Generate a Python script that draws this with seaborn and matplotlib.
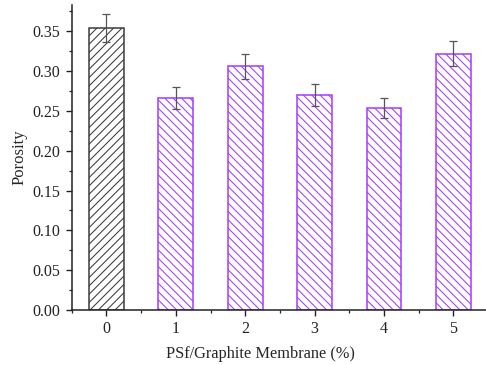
import matplotlib
matplotlib.use("Agg")
import matplotlib.pyplot as plt
import seaborn as sns
import pandas as pd
from matplotlib.ticker import MultipleLocator

# Porosity of PSf/graphite membranes by graphite loading
loading = ["0", "1", "2", "3", "4", "5"]
porosity = [0.354, 0.266, 0.306, 0.270, 0.254, 0.322]
porosity_err = [0.018, 0.0135, 0.0155, 0.0135, 0.0128, 0.016]

df = pd.DataFrame({"loading": loading, "porosity": porosity})

sns.set_style("ticks")
plt.rcParams["font.family"] = ["Liberation Serif", "DejaVu Serif"]
plt.rcParams["hatch.linewidth"] = 0.75

fig = plt.figure(figsize=(4.86, 3.65), dpi=100)
ax = fig.add_axes([0.1475, 0.1507, 0.857, 0.8356])

sns.barplot(data=df, x="loading", y="porosity", order=loading,
            width=0.5, color="white", errorbar=None, ax=ax)

purple = "#a23cff"
for i, bar in enumerate(ax.patches):
    bar.set_facecolor("white")
    if i == 0:
        bar.set_edgecolor("#3a3a3a")
        bar.set_hatch("////")
    else:
        bar.set_edgecolor(purple)
        bar.set_hatch("\\\\\\\\")
    bar.set_linewidth(1.1)

ax.errorbar(range(len(loading)), porosity, yerr=porosity_err, fmt="none",
            ecolor="#555555", elinewidth=0.9, capsize=2.6, capthick=0.9)

ax.set_xlim(-0.5, 5.5)
ax.set_ylim(0, 0.383)
ax.yaxis.set_major_locator(MultipleLocator(0.05))
ax.yaxis.set_minor_locator(MultipleLocator(0.025))
ax.xaxis.set_minor_locator(MultipleLocator(0.5))
ax.yaxis.set_major_formatter(matplotlib.ticker.FormatStrFormatter("%.2f"))

for side in ("top", "right"):
    ax.spines[side].set_visible(False)
for side in ("left", "bottom"):
    ax.spines[side].set_linewidth(1.1)
    ax.spines[side].set_color("#222222")

ax.tick_params(axis="both", which="major", direction="out", length=4.5,
               width=1.0, labelsize=11.5, colors="#222222")
ax.tick_params(axis="both", which="minor", direction="out", length=2.5,
               width=0.9, colors="#222222")

ax.set_xlabel("PSf/Graphite Membrane (%)", fontsize=11.8)
ax.xaxis.set_label_coords(0.4524, -0.118)
ax.set_ylabel("Porosity", fontsize=12, labelpad=4)

fig.savefig("out.png", dpi=100)
